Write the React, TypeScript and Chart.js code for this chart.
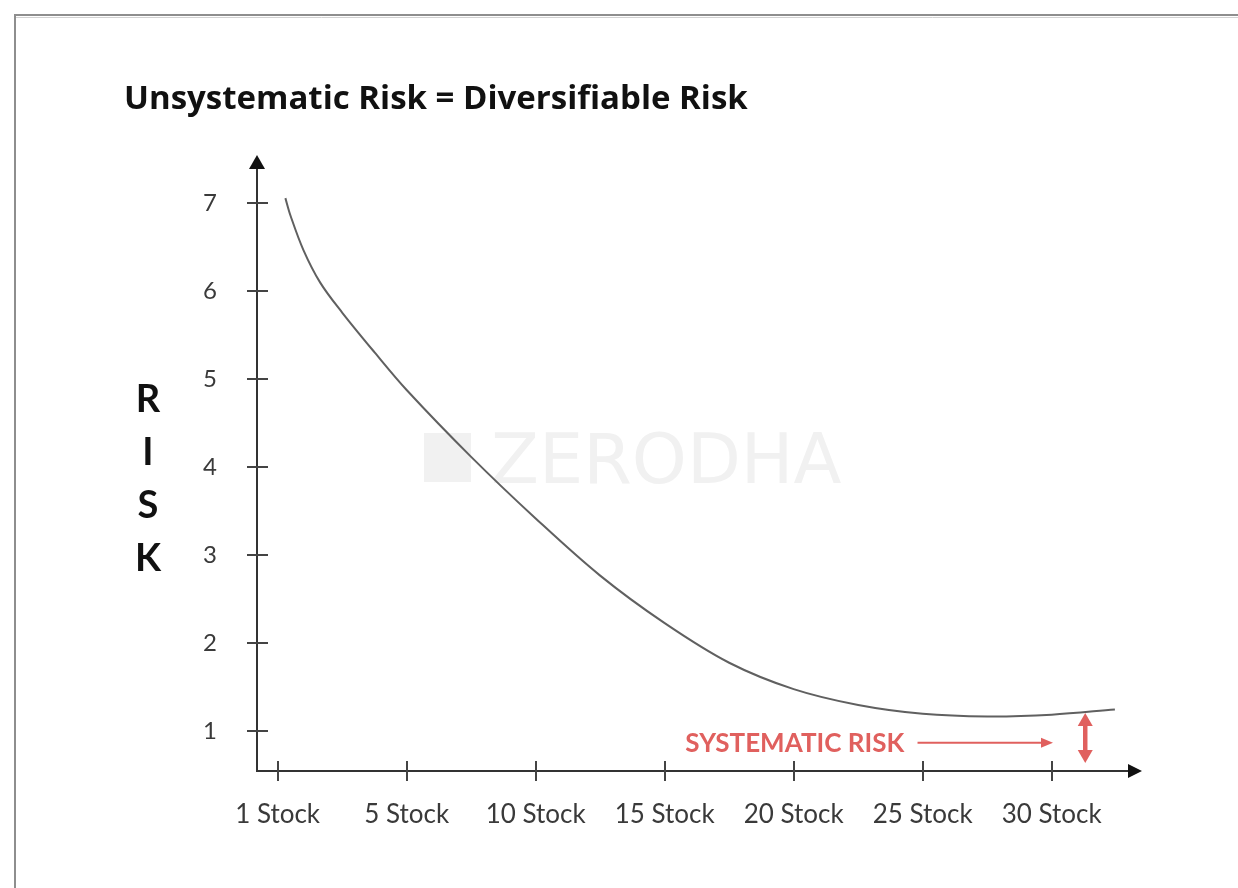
import React, { useEffect, useRef } from 'react';
import { Chart, registerables } from 'chart.js';

Chart.register(...registerables);

// Category labels along the horizontal axis (tick index 0..6)
const stockLabels = ['1 Stock', '5 Stock', '10 Stock', '15 Stock', '20 Stock', '25 Stock', '30 Stock'];
// Risk ticks on the vertical axis
const riskTicks = [1, 2, 3, 4, 5, 6, 7];
// Curve: horizontal position in tick-index units (0 = "1 Stock", 6 = "30 Stock")
const curvePos = [0.06, 0.1, 0.2, 0.33, 0.5, 0.75, 1.0, 1.5, 2.0, 2.5, 3.0, 3.5, 4.0, 4.5, 5.0, 5.5, 6.0, 6.49];
// Curve: risk level
const curveRisk = [7.06, 6.86, 6.47, 6.1, 5.76, 5.31, 4.88, 4.12, 3.42, 2.77, 2.23, 1.78, 1.48, 1.3, 1.2, 1.17, 1.19, 1.25];

const titleText = 'Unsystematic Risk = Diversifiable Risk';
const yAxisLetters = ['R', 'I', 'S', 'K'];
const annotationText = 'SYSTEMATIC RISK';
const watermarkText = 'ZERODHA';

const RED = '#e0605e';
const AXIS = '#333333';

const decorPlugin = {
  id: 'decor',
  beforeDraw(chart: any) {
    const { ctx, width, height } = chart;
    ctx.save();
    ctx.fillStyle = '#ffffff';
    ctx.fillRect(0, 0, width, height);
    // frame
    ctx.strokeStyle = '#d2d2d2';
    ctx.lineWidth = 1;
    ctx.beginPath();
    ctx.moveTo(16, 17.5);
    ctx.lineTo(width, 17.5);
    ctx.stroke();
    ctx.strokeStyle = '#8e8e8e';
    ctx.lineWidth = 2;
    ctx.beginPath();
    ctx.moveTo(15, height);
    ctx.lineTo(15, 15);
    ctx.lineTo(width, 15);
    ctx.stroke();
    ctx.restore();
  },
  beforeDatasetsDraw(chart: any) {
    const { ctx } = chart;
    ctx.save();
    ctx.fillStyle = '#f1f1f1';
    ctx.fillRect(424, 433, 47, 49);
    ctx.font = '70px "DejaVu Sans"';
    ctx.textAlign = 'left';
    ctx.textBaseline = 'alphabetic';
    ctx.fillText(watermarkText, 491, 483);
    ctx.restore();
  },
  afterDatasetsDraw(chart: any) {
    const { ctx, chartArea, scales } = chart;
    const xs = scales.x;
    const ys = scales.y;
    const x0 = chartArea.left;
    const yb = chartArea.bottom;
    const top = chartArea.top;
    const right = chartArea.right;
    ctx.save();
    ctx.strokeStyle = AXIS;
    ctx.fillStyle = '#111';
    ctx.lineWidth = 2;
    ctx.lineCap = 'butt';
    // axes
    ctx.beginPath();
    ctx.moveTo(x0, top + 10);
    ctx.lineTo(x0, yb);
    ctx.lineTo(right - 10, yb);
    ctx.stroke();
    // arrow heads
    ctx.beginPath();
    ctx.moveTo(x0, top);
    ctx.lineTo(x0 - 8, top + 14);
    ctx.lineTo(x0 + 8, top + 14);
    ctx.closePath();
    ctx.fill();
    ctx.beginPath();
    ctx.moveTo(right, yb);
    ctx.lineTo(right - 14, yb - 7);
    ctx.lineTo(right - 14, yb + 7);
    ctx.closePath();
    ctx.fill();
    // tick marks crossing the axes
    ctx.strokeStyle = '#444';
    ctx.lineWidth = 2;
    riskTicks.forEach((v) => {
      const py = Math.round(ys.getPixelForValue(v));
      ctx.beginPath();
      ctx.moveTo(x0 - 10, py);
      ctx.lineTo(x0 + 11, py);
      ctx.stroke();
    });
    stockLabels.forEach((_, i) => {
      const px = Math.round(xs.getPixelForValue(i));
      ctx.beginPath();
      ctx.moveTo(px, yb - 10);
      ctx.lineTo(px, yb + 10);
      ctx.stroke();
    });
    // RISK letters
    ctx.fillStyle = '#111';
    ctx.font = 'bold 38px Lato';
    ctx.textAlign = 'center';
    ctx.textBaseline = 'alphabetic';
    yAxisLetters.forEach((ch, i) => {
      ctx.fillText(ch, 148, 411.5 + i * 53.3);
    });
    // Systematic risk annotation
    ctx.fillStyle = RED;
    ctx.strokeStyle = RED;
    ctx.font = 'bold 26px Lato';
    ctx.textAlign = 'left';
    ctx.fillText(annotationText, xs.getPixelForValue(3.16), ys.getPixelForValue(0.77));
    const ay = ys.getPixelForValue(0.87);
    const ax1 = xs.getPixelForValue(4.96);
    const ax2 = xs.getPixelForValue(6.01);
    ctx.lineWidth = 2;
    ctx.beginPath();
    ctx.moveTo(ax1, ay);
    ctx.lineTo(ax2 - 10, ay);
    ctx.stroke();
    ctx.beginPath();
    ctx.moveTo(ax2, ay);
    ctx.lineTo(ax2 - 12, ay - 5);
    ctx.lineTo(ax2 - 12, ay + 5);
    ctx.closePath();
    ctx.fill();
    // vertical double arrow
    const vx = xs.getPixelForValue(6.26);
    const vt = ys.getPixelForValue(1.21);
    const vb = ys.getPixelForValue(0.64);
    ctx.lineWidth = 4.5;
    ctx.beginPath();
    ctx.moveTo(vx, vt + 10);
    ctx.lineTo(vx, vb - 10);
    ctx.stroke();
    ctx.beginPath();
    ctx.moveTo(vx, vt);
    ctx.lineTo(vx - 7.5, vt + 13);
    ctx.lineTo(vx + 7.5, vt + 13);
    ctx.closePath();
    ctx.fill();
    ctx.beginPath();
    ctx.moveTo(vx, vb);
    ctx.lineTo(vx - 7.5, vb - 13);
    ctx.lineTo(vx + 7.5, vb - 13);
    ctx.closePath();
    ctx.fill();
    ctx.restore();
  },
};

export default function App() {
  const ref = useRef<HTMLCanvasElement>(null);
  useEffect(() => {
    if (!ref.current) return;
    const chart = new Chart(ref.current, {
      type: 'line',
      data: {
        datasets: [
          {
            label: 'Risk',
            data: curvePos.map((x, i) => ({ x, y: curveRisk[i] })),
            borderColor: '#606060',
            borderWidth: 2,
            pointRadius: 0,
            fill: false,
            tension: 0.35,
          },
        ],
      },
      options: {
        animation: false,
        responsive: true,
        maintainAspectRatio: false,
        layout: { padding: { left: 124, right: 96, top: 80, bottom: 17 } },
        plugins: {
          legend: { display: false },
          tooltip: { enabled: false },
          title: {
            display: true,
            text: titleText,
            align: 'start',
            color: '#111',
            font: { family: '"Open Sans"', size: 33, weight: 'bold', lineHeight: 1.2 },
            padding: { top: 0, bottom: 35.4 },
          },
        },
        scales: {
          x: {
            type: 'linear',
            min: -0.16,
            max: 6.7,
            grid: { display: false, drawTicks: false },
            border: { display: false },
            afterBuildTicks: (scale: any) => {
              scale.ticks = stockLabels.map((_, i) => ({ value: i }));
            },
            afterFit: (scale: any) => {
              scale.height = 100;
            },
            ticks: {
              autoSkip: false,
              maxRotation: 0,
              padding: 28,
              color: '#3a3a3a',
              font: { family: 'Lato', size: 26 },
              callback: (v: any) => stockLabels[Math.round(Number(v))] ?? '',
            },
          },
          y: {
            type: 'linear',
            min: 0.55,
            max: 7.55,
            grid: { display: false, drawTicks: false },
            border: { display: false },
            afterBuildTicks: (scale: any) => {
              scale.ticks = riskTicks.map((v) => ({ value: v }));
            },
            afterFit: (scale: any) => {
              scale.width = 133;
            },
            ticks: {
              padding: 40,
              color: '#3a3a3a',
              font: { family: 'Lato', size: 24 },
              callback: (v: any) => String(v),
            },
          },
        },
      },
      plugins: [decorPlugin],
    } as any);
    return () => chart.destroy();
  }, []);
  return (
    <div style={{ position: 'fixed', left: 0, top: 0, width: 1238, height: 888, background: '#fff' }}>
      <canvas ref={ref} />
    </div>
  );
}
